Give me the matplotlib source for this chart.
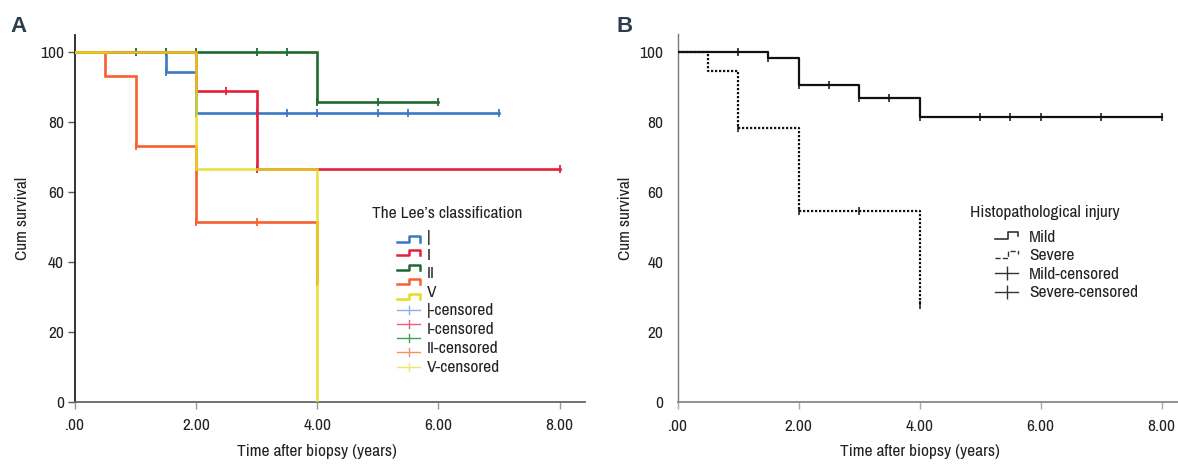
import numpy as np
import matplotlib
matplotlib.use("Agg")
import matplotlib.pyplot as plt
from matplotlib.lines import Line2D
from matplotlib.legend_handler import HandlerBase
from matplotlib import font_manager

names = sorted({f.name for f in font_manager.fontManager.ttflist})
cond = [n for n in names if 'Narrow' in n or 'Condensed' in n]
if cond:
    plt.rcParams['font.family'] = [cond[0], 'DejaVu Sans']
else:
    plt.rcParams['font.family'] = ['DejaVu Sans']
plt.rcParams['font.stretch'] = 'condensed'

# ---------------- data ----------------
# Panel A: Lee's classification (time in years, cum survival %)
time_I = [0, 1.5, 2.0, 7.0]
surv_I = [100, 94.4, 82.6, 82.6]
cens_I = [1.5, 2.0, 3.0, 3.5, 4.0, 5.0, 5.5, 7.0]

time_II = [0, 2.0, 3.0, 8.0]
surv_II = [100, 88.9, 66.7, 66.7]
cens_II = [2.5, 3.0, 8.0]

time_III = [0, 4.0, 6.0]
surv_III = [100, 85.7, 85.7]
cens_III = [1.0, 1.5, 2.0, 3.0, 3.5, 4.0, 5.0, 6.0]

time_IV = [0, 0.5, 1.0, 2.0, 4.0]
surv_IV = [100, 93.3, 73.3, 51.3, 34.2]
cens_IV = [1.0, 2.0, 3.0, 4.0]

time_V = [0, 2.0, 4.0]
surv_V = [100, 66.7, 0]
cens_V = []

# Panel B: histopathological injury
time_mild = [0, 1.5, 2.0, 3.0, 4.0, 8.0]
surv_mild = [100, 98.3, 90.5, 86.9, 81.6, 81.6]
cens_mild = [1.0, 1.5, 2.0, 2.5, 3.0, 3.5, 4.0, 5.0, 5.5, 6.0, 7.0, 8.0]

time_severe = [0, 0.5, 1.0, 2.0, 4.0]
surv_severe = [100, 94.7, 78.3, 54.5, 27.6]
cens_severe = [1.0, 2.0, 3.0, 4.0]

x_ticks = [0, 2, 4, 6, 8]
x_tick_labels = ['.00', '2.00', '4.00', '6.00', '8.00']
y_ticks = [0, 20, 40, 60, 80, 100]

legendA_texts = ['|', 'I', 'II', 'V', '|-censored', 'I-censored', 'II-censored', 'V-censored']
legendB_labels = ['Mild', 'Severe', 'Mild-censored', 'Severe-censored']

# ---------------- styles ----------------
colA = {'I': '#3b78c6', 'II': '#e3203c', 'III': '#1e6b30', 'IV': '#f7602e', 'V': '#e6dc1e'}
colA_light = {'I': '#86b3e6', 'II': '#f0607e', 'III': '#3fa052', 'IV': '#f79062', 'V': '#efe66a'}

W, H = 1178, 465
FS = 12.5
XMAX_A, XMAX_B = 8.42, 8.27


def fx(px):
    return px / W


def fy(py):
    return 1 - py / H


def censor_y(t, s, ct):
    t = np.asarray(t)
    s = np.asarray(s)
    idx = np.searchsorted(t, ct, side='right') - 1
    return s[idx]


fig = plt.figure(figsize=(W / 100, H / 100), dpi=100)

# ---------------- panel A ----------------
axA = fig.add_axes([fx(75), fy(401.5), fx(585 - 75), (401.5 - 35) / H])
axA.set_xlim(0, XMAX_A)
axA.set_ylim(0, 105)

seriesA = [
    ('III', time_III, surv_III, cens_III, 2),
    ('I', time_I, surv_I, cens_I, 3),
    ('II', time_II, surv_II, cens_II, 4),
    ('IV', time_IV, surv_IV, cens_IV, 5),
    ('V', time_V, surv_V, cens_V, 6),
]
for key, t, s, c, z in seriesA:
    alpha = 0.85 if key == 'V' else 1.0
    axA.step(t, s, where='post', color=colA[key], lw=1.9, zorder=z, alpha=alpha,
             solid_joinstyle='miter')
    if c:
        cy = [censor_y(t, s, ct) for ct in c]
        axA.plot(c, cy, ls='none', marker='|', ms=5.5, mew=1.3, color=colA[key], zorder=z + 0.5)

axA.set_xticks(x_ticks)
axA.set_xticklabels(x_tick_labels)
axA.set_yticks(y_ticks)
axA.spines['top'].set_visible(False)
axA.spines['right'].set_visible(False)
axA.spines['left'].set_color('#222222')
axA.spines['left'].set_linewidth(1.3)
axA.spines['bottom'].set_color('#666666')
axA.spines['bottom'].set_linewidth(1.3)
axA.tick_params(axis='x', direction='out', length=5, width=1, color='#999999',
                labelsize=FS, pad=7, labelcolor='#222222')
axA.tick_params(axis='y', direction='out', length=5, width=1, color='#555555',
                labelsize=FS, pad=3, labelcolor='#222222')
axA.set_xlabel('Time after biopsy (years)', fontsize=FS, color='#222222')
axA.xaxis.set_label_coords(4.0 / XMAX_A, -0.115)
axA.set_ylabel('Cum survival', fontsize=FS, labelpad=7, color='#222222')

# Legend A (drawn in figure pixel space)
fig.text(fx(372), fy(213), "The Lee\u2019s classification", fontsize=FS, va='center', ha='left',
         color='#222222')
handle_rows = [239, 253, 267.5, 281.5, 296, 310, 323.5, 337.5, 352, 366.5]
handle_keys = ['I', 'II', 'III', 'IV', 'V', 'I', 'II', 'III', 'IV', 'V']
hx0, hx1 = 397, 420
for i, (yr, k) in enumerate(zip(handle_rows, handle_keys)):
    if i < 5:
        xs = [hx0, hx0 + 12, hx0 + 12, hx1, hx1]
        ys = [yr + 2.5, yr + 2.5, yr - 2.5, yr - 2.5, yr + 2.5]
        fig.add_artist(Line2D([fx(v) for v in xs], [fy(v) for v in ys], color=colA[k], lw=1.8,
                              transform=fig.transFigure))
    else:
        fig.add_artist(Line2D([fx(hx0), fx(hx1)], [fy(yr), fy(yr)], color=colA_light[k], lw=1.0,
                              transform=fig.transFigure))
        fig.add_artist(Line2D([fx((hx0 + hx1) / 2)] * 2, [fy(yr - 4), fy(yr + 4)], color=colA_light[k],
                              lw=1.0, transform=fig.transFigure))
text_rows = [237, 255.5, 274, 292.5, 311, 329.5, 348, 367]
for yr, txt in zip(text_rows, legendA_texts):
    fig.text(fx(427), fy(yr), txt, fontsize=FS, va='center', ha='left', color='#222222')

# ---------------- panel B ----------------
axB = fig.add_axes([fx(677.5), fy(402), fx(W - 677.5), (402 - 34) / H])
axB.set_xlim(0, XMAX_B)
axB.set_ylim(0, 105.2)

axB.step(time_mild, surv_mild, where='post', color='#111111', lw=1.6, zorder=3)
axB.plot(cens_mild, [censor_y(time_mild, surv_mild, c) for c in cens_mild], ls='none',
         marker='|', ms=5.5, mew=1.1, color='#111111', zorder=4)
axB.step(time_severe, surv_severe, where='post', color='#111111', lw=1.6, ls=(0, (1, 0.8)), zorder=3)
axB.plot(cens_severe, [censor_y(time_severe, surv_severe, c) for c in cens_severe], ls='none',
         marker='|', ms=5.5, mew=1.1, color='#111111', zorder=4)

axB.set_xticks(x_ticks)
axB.set_xticklabels(x_tick_labels)
axB.set_yticks(y_ticks)
axB.spines['top'].set_visible(False)
axB.spines['right'].set_visible(False)
axB.spines['left'].set_color('#777777')
axB.spines['left'].set_linewidth(1.0)
axB.spines['bottom'].set_color('#888888')
axB.spines['bottom'].set_linewidth(1.3)
axB.tick_params(axis='x', direction='out', length=5, width=1, color='#aaaaaa',
                labelsize=FS, pad=7, labelcolor='#222222')
axB.tick_params(axis='y', length=0, labelsize=FS, pad=10, labelcolor='#222222')
axB.set_xlabel('Time after biopsy (years)', fontsize=FS, color='#222222')
axB.xaxis.set_label_coords(4.0 / XMAX_B, -0.115)
axB.set_ylabel('Cum survival', fontsize=FS, labelpad=5, color='#222222')


class StepHandler(HandlerBase):
    def create_artists(self, legend, orig_handle, xdescent, ydescent, width, height, fontsize, trans):
        x0 = -xdescent
        y0 = -ydescent
        xs = [x0, x0 + 0.55 * width, x0 + 0.55 * width, x0 + width, x0 + width]
        ys = [y0 + 0.15 * height, y0 + 0.15 * height, y0 + 0.85 * height, y0 + 0.85 * height,
              y0 + 0.5 * height]
        ln = Line2D(xs, ys, color=orig_handle.get_color(), lw=orig_handle.get_linewidth(),
                    ls=orig_handle.get_linestyle())
        ln.set_transform(trans)
        return [ln]


h_mild = Line2D([], [], color='#333333', lw=1.2)
h_sev = Line2D([], [], color='#333333', lw=1.0, ls=(0, (0.8, 0.9)))
h_mc = Line2D([], [], color='#333333', lw=1.0, marker='|', ms=10, mew=1.0)
h_sc = Line2D([], [], color='#333333', lw=1.0, marker='|', ms=10, mew=1.0)
legB = axB.legend([h_mild, h_sev, h_mc, h_sc], legendB_labels,
                  handler_map={h_mild: StepHandler(), h_sev: StepHandler()},
                  loc='upper left', bbox_to_anchor=(fx(995), fy(230)), bbox_transform=fig.transFigure,
                  frameon=False, fontsize=FS, borderpad=0, borderaxespad=0,
                  handlelength=1.35, handleheight=0.5, handletextpad=0.6, labelspacing=0.2)
for t in legB.get_texts():
    t.set_color('#222222')
fig.text(fx(970), fy(213), 'Histopathological injury', fontsize=FS, va='center', ha='left',
         color='#222222')

# panel letters
fig.text(fx(10), fy(26), 'A', fontsize=16, fontweight='bold', color='#2c3e4c',
         family=['Liberation Sans', 'DejaVu Sans'], va='center', ha='left', stretch='normal')
fig.text(fx(616), fy(26), 'B', fontsize=16, fontweight='bold', color='#2c3e4c',
         family=['Liberation Sans', 'DejaVu Sans'], va='center', ha='left', stretch='normal')

fig.savefig('out.png', dpi=100)
